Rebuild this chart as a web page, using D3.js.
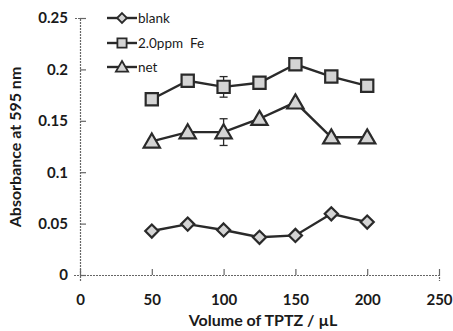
<!DOCTYPE html>
<html><head><meta charset="utf-8">
<script src="https://cdn.jsdelivr.net/npm/d3@7"></script>
<style>body{margin:0;background:#fff}</style>
</head><body>
<svg id="c" width="453" height="331"></svg>
<script>
const volumes = [50, 75, 100, 125, 150, 175, 200];
const blank = [0.0428, 0.0495, 0.0438, 0.0367, 0.0385, 0.0595, 0.0515];
const fe = [0.171, 0.189, 0.183, 0.187, 0.205, 0.193, 0.184];
const net = [0.130, 0.139, 0.139, 0.152, 0.168, 0.134, 0.134];
const feErr = [0.002, 0.002, 0.010, 0.002, 0.002, 0.002, 0.002];
const netErr = [0.002, 0.002, 0.013, 0.002, 0.002, 0.002, 0.002];
const xTicks = [0, 50, 100, 150, 200, 250];
const yTicks = [0, 0.05, 0.1, 0.15, 0.2, 0.25];
const seriesNames = ["blank", "2.0ppm  Fe", "net"];

const svg = d3.select("#c");
const x = d3.scaleLinear().domain([0, 250]).range([80, 439]);
const y = d3.scaleLinear().domain([0, 0.25]).range([275, 18]);
const font = "Lato, 'Open Sans', sans-serif";
const ink = "#2a2a2a";

const xAxis = svg.append("g").attr("transform", "translate(0,275)")
  .call(d3.axisBottom(x).tickValues(xTicks).tickSize(6).tickFormat(d3.format("d")));
const yAxis = svg.append("g").attr("transform", "translate(80,0)")
  .call(d3.axisLeft(y).tickValues(yTicks).tickSize(6).tickFormat(d => d === 0 ? "0" : String(+d.toFixed(2))));
[xAxis, yAxis].forEach(g => {
  g.selectAll("path.domain").attr("stroke", "#666").attr("stroke-width", 1.2).attr("stroke-dasharray", "2,1");
  g.selectAll(".tick line").attr("stroke", "#666").attr("stroke-width", 1.2);
  g.selectAll(".tick text").attr("font-family", font).attr("font-size", 15).attr("font-weight", "bold").attr("fill", "#1a1a1a");
});
xAxis.selectAll(".tick line").attr("y1", -6).attr("y2", 0);
yAxis.selectAll(".tick line").attr("x1", 0).attr("x2", 6);
xAxis.selectAll(".tick text").attr("dy", "1.4em");
yAxis.selectAll(".tick text").attr("x", -12);

svg.append("text").attr("x", 263).attr("y", 326).attr("text-anchor", "middle")
  .attr("font-family", font).attr("font-size", 16).attr("font-weight", "bold").attr("fill", "#1a1a1a")
  .text("Volume of TPTZ / µL");
svg.append("text").attr("transform", "translate(21,147) rotate(-90)").attr("text-anchor", "middle")
  .attr("font-family", font).attr("font-size", 16).attr("font-weight", "bold").attr("fill", "#1a1a1a")
  .text("Absorbance at 595 nm");

const line = d3.line().x(d => x(d[0])).y(d => y(d[1]));
const sym = [d3.symbol().type(d3.symbolDiamond2).size(110)(),
             d3.symbol().type(d3.symbolSquare).size(150)(),
             d3.symbol().type(d3.symbolTriangle).size(115)()];
const data = [blank, fe, net];
const errs = [null, feErr, netErr];

data.forEach((vals, i) => {
  const pts = volumes.map((v, j) => [v, vals[j]]);
  if (errs[i]) {
    const g = svg.append("g").attr("stroke", ink).attr("stroke-width", 1.3);
    pts.forEach((p, j) => {
      const e = errs[i][j];
      g.append("line").attr("x1", x(p[0])).attr("x2", x(p[0])).attr("y1", y(p[1] - e)).attr("y2", y(p[1] + e));
      [p[1] - e, p[1] + e].forEach(v => g.append("line").attr("x1", x(p[0]) - 4).attr("x2", x(p[0]) + 4).attr("y1", y(v)).attr("y2", y(v)));
    });
  }
  svg.append("path").datum(pts).attr("d", line).attr("fill", "none").attr("stroke", ink).attr("stroke-width", 2.4);
  svg.append("g").selectAll("path").data(pts).join("path")
    .attr("transform", d => `translate(${x(d[0])},${y(d[1]) + (i === 2 ? 1.5 : 0)})`)
    .attr("d", sym[i]).attr("fill", "#d4d4d4").attr("stroke", ink).attr("stroke-width", 2.2);
});

// legend
const leg = svg.append("g");
[18, 43, 67].forEach((ly, i) => {
  leg.append("line").attr("x1", 107).attr("x2", 137).attr("y1", ly).attr("y2", ly).attr("stroke", ink).attr("stroke-width", 2.4);
  leg.append("path").attr("transform", `translate(122,${ly + (i === 2 ? 1 : 0)}) scale(0.75)`).attr("d", sym[i])
    .attr("fill", "#d4d4d4").attr("stroke", ink).attr("stroke-width", 2.4);
  leg.append("text").attr("x", 138).attr("y", ly + 5).attr("font-family", font).attr("font-size", 13.5)
    .attr("fill", "#1a1a1a").attr("xml:space", "preserve").style("white-space", "pre").text(seriesNames[i]);
});
</script>
</body></html>
